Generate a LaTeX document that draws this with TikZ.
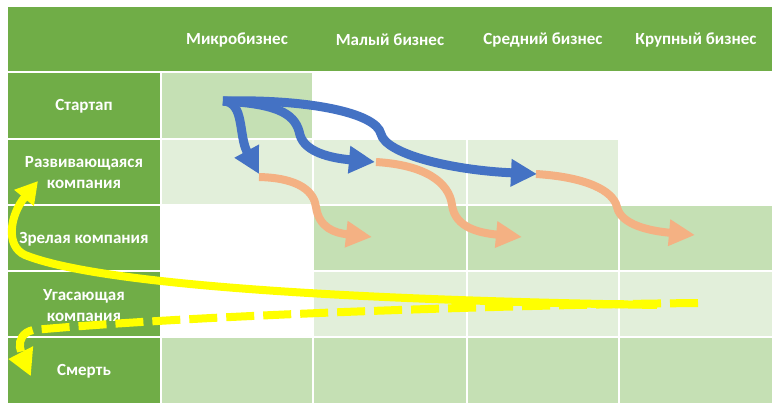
\documentclass[tikz,border=0pt]{standalone}
\usepackage{fontspec}
\setmainfont{Carlito}
\usetikzlibrary{arrows.meta}
\definecolor{hdr}{HTML}{70AD47}
\definecolor{midg}{HTML}{C5E0B4}
\definecolor{ltg}{HTML}{E2EFDA}
\definecolor{blu}{HTML}{4472C4}
\definecolor{ora}{HTML}{F4B183}
\definecolor{yel}{HTML}{FFFF00}
\begin{document}
\begin{tikzpicture}[x=1pt,y=-1pt,
  cellbox/.style={inner sep=0pt, outer sep=0pt, draw=none},
  wide/.style={minimum width=152pt},
  narrow/.style={minimum width=150pt},
  lbl/.style={text=white, inner sep=0pt, align=center, font=\fontsize{17}{21}\selectfont\bfseries},
  bluearrow/.style={draw=blu, line width=9pt, -{Triangle[length=26pt,width=26pt]}},
  orangearrow/.style={draw=ora, line width=8pt, -{Triangle[length=26pt,width=25pt]}},
  yelsolid/.style={draw=yel, line width=8pt, -{Triangle[length=22pt,width=24pt]}},
  yeldashed/.style={draw=yel, line width=8pt, dash pattern=on 28pt off 9pt, -{Triangle[length=24pt,width=28pt]}}
]
\fill[white] (0,0) rectangle (777,412);
\useasboundingbox (0,0) rectangle (777,412);

% header strip
\node[cellbox, fill=hdr, minimum width=764pt, minimum height=64pt] (hdrrow) at (390,39) {};
% first column
\node[cellbox, fill=hdr, wide, minimum height=65pt] (r1c0) at (84,105.5) {};
\node[cellbox, fill=hdr, wide, minimum height=64pt] (r2c0) at (84,172) {};
\node[cellbox, fill=hdr, wide, minimum height=64pt] (r3c0) at (84,238) {};
\node[cellbox, fill=hdr, wide, minimum height=64pt] (r4c0) at (84,304) {};
\node[cellbox, fill=hdr, wide, minimum height=65pt] (r5c0) at (84,370.5) {};
% row 1
\node[cellbox, fill=midg, narrow, minimum height=65pt] (r1c1) at (237,105.5) {};
% row 2
\node[cellbox, fill=ltg, narrow, minimum height=64pt] (r2c1) at (237,172) {};
\node[cellbox, fill=ltg, wide, minimum height=64pt] (r2c2) at (390,172) {};
\node[cellbox, fill=ltg, narrow, minimum height=64pt] (r2c3) at (543,172) {};
% row 3
\node[cellbox, fill=midg, wide, minimum height=64pt] (r3c2) at (390,238) {};
\node[cellbox, fill=midg, narrow, minimum height=64pt] (r3c3) at (543,238) {};
\node[cellbox, fill=midg, wide, minimum height=64pt] (r3c4) at (696,238) {};
% row 4
\node[cellbox, fill=ltg, wide, minimum height=64pt] (r4c2) at (390,304) {};
\node[cellbox, fill=ltg, narrow, minimum height=64pt] (r4c3) at (543,304) {};
\node[cellbox, fill=ltg, wide, minimum height=64pt] (r4c4) at (696,304) {};
% row 5
\node[cellbox, fill=midg, narrow, minimum height=65pt] (r5c1) at (237,370.5) {};
\node[cellbox, fill=midg, wide, minimum height=65pt] (r5c2) at (390,370.5) {};
\node[cellbox, fill=midg, narrow, minimum height=65pt] (r5c3) at (543,370.5) {};
\node[cellbox, fill=midg, wide, minimum height=65pt] (r5c4) at (696,370.5) {};

% header labels
\node[lbl] (h1) at (237,40) {Микробизнес};
\node[lbl] (h2) at (390,40) {Малый бизнес};
\node[lbl] (h3) at (543,40) {Средний бизнес};
\node[lbl] (h4) at (696,40) {Крупный бизнес};
% row labels
\node[lbl] (l1) at (84,106) {Стартап};
\node[lbl] (l2) at (84,173) {Развивающаяся\\компания};
\node[lbl] (l3) at (84,239) {Зрелая компания};
\node[lbl] (l4) at (84,306) {Угасающая\\компания};
\node[lbl] (l5) at (84,371) {Смерть};

% coordinates for connectors
\coordinate (bs) at (223,101);
\coordinate (b1) at (259,174);
\coordinate (b2) at (375,162);
\coordinate (b3) at (537,174);
\coordinate (o1s) at (259,177);
\coordinate (o1) at (372,237);
\coordinate (o2s) at (376,162);
\coordinate (o2) at (522,237);
\coordinate (o3s) at (536,174);
\coordinate (o3) at (695,235);
\coordinate (ys) at (657,305);
\coordinate (ye) at (38,181);
\coordinate (ds) at (698,303);
\coordinate (de) at (8,359);

% orange arrows
\draw[orangearrow] (o1s) .. controls (300,178) and (314,192) .. (316,207) .. controls (319,228) and (335,233) .. (o1);
\draw[orangearrow] (o2s) .. controls (425,165) and (449,182) .. (452,205) .. controls (455,228) and (480,233) .. (o2);
\draw[orangearrow] (o3s) .. controls (585,177) and (613,190) .. (617,207) .. controls (621,225) and (650,231) .. (o3);

% blue arrows
\draw[bluearrow] (bs) .. controls (245,102) and (238,135) .. (b1);
\draw[bluearrow] (bs) .. controls (283,104) and (296,116) .. (300,135) .. controls (305,152) and (330,158) .. (b2);
\draw[bluearrow] (bs) .. controls (305,99) and (376,112) .. (381,134) .. controls (386,154) and (450,170) .. (b3);

% yellow arrows
\draw[yelsolid] (ys) .. controls (350,300) and (100,285) .. (25,255) .. controls (5,246) and (10,215) .. (ye);
\draw[yeldashed] (ds) .. controls (500,305) and (200,315) .. (33,330) .. controls (12,335) and (20,360) .. (de);
\end{tikzpicture}
\end{document}
